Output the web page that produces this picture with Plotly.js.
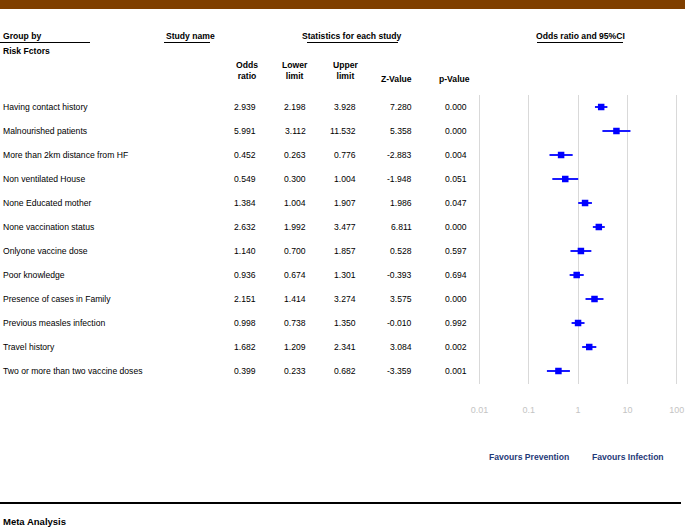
<!DOCTYPE html>
<html><head><meta charset="utf-8">
<script src="https://cdn.plot.ly/plotly-3.0.1.min.js"></script>
<style>html,body{margin:0;padding:0;background:#fff}#chart{width:685px;height:529px}</style>
</head><body><div id="chart"></div>
<script>
const studies = ["Having contact history","Malnourished patients","More than 2km distance from HF","Non ventilated House","None Educated mother","None vaccination status","Onlyone vaccine dose","Poor knowledge","Presence of cases in Family","Previous measles infection","Travel history","Two or more than two vaccine doses"];
const oddsRatio = [2.939,5.991,0.452,0.549,1.384,2.632,1.140,0.936,2.151,0.998,1.682,0.399];
const lowerLimit = [2.198,3.112,0.263,0.300,1.004,1.992,0.700,0.674,1.414,0.738,1.209,0.233];
const upperLimit = [3.928,11.532,0.776,1.004,1.907,3.477,1.857,1.301,3.274,1.350,2.341,0.682];
const zValue = [7.280,5.358,-2.883,-1.948,1.986,6.811,0.528,-0.393,3.575,-0.010,3.084,-3.359];
const pValue = [0.000,0.000,0.004,0.051,0.047,0.000,0.597,0.694,0.000,0.992,0.002,0.001];
const tickVals = [0.01,0.1,1,10,100];
const tickText = ["0.01","0.1","1","10","100"];

const W = 685, H = 529;
const FONT = "'Liberation Sans Narrow','Arial Narrow','Liberation Sans',Arial,sans-serif";
const px = x => x / W;
const py = y => 1 - y / H;
const rows = studies.map((_, i) => i);

const trace = {
  type: 'scatter', mode: 'markers',
  x: oddsRatio, y: rows,
  marker: {symbol: 'square', size: 6.5, color: '#0000ff'},
  error_x: {type: 'data', symmetric: false,
    array: upperLimit.map((u, i) => u - oddsRatio[i]),
    arrayminus: lowerLimit.map((l, i) => oddsRatio[i] - l),
    color: '#1a1aff', thickness: 2, width: 0},
  hoverinfo: 'skip', showlegend: false
};

const ann = [];
const base = {family: FONT, size: 8.6, color: '#000'};
function txt(text, x, y, opts) {
  ann.push(Object.assign({text, x: px(x), y: py(y), xref: 'paper', yref: 'paper',
    showarrow: false, xanchor: 'left', yanchor: 'middle', font: base}, opts || {}));
}
const hb = {font: {family: FONT, size: 8.6, color: '#000', weight: 'bold'}};
txt('Group by', 1, 36, hb);
txt('Study name', 164, 36, hb);
txt('Statistics for each study', 352, 36, Object.assign({xanchor: 'center'}, hb));
txt('Odds ratio and 95%CI', 580, 36, Object.assign({xanchor: 'center'}, hb));
txt('Risk Fctors', 1, 51, {font: {family: FONT, size: 8.6, color: '#000', weight: 'bold'}});
const colHdr = [["Odds<br>ratio", 247], ["Lower<br>limit", 295], ["Upper<br>limit", 345]];
colHdr.forEach(([t, x]) => txt(t, x, 71, {xanchor: 'center', font: {family: FONT, size: 8.6, color: '#000', weight: 'bold'}}));
txt('Z-Value', 396, 79, Object.assign({xanchor: 'center'}, hb));
txt('p-Value', 454, 79, Object.assign({xanchor: 'center'}, hb));
const cols = [[oddsRatio, 258], [lowerLimit, 308], [upperLimit, 358], [zValue, 414], [pValue, 469]];
studies.forEach((s, i) => {
  ann.push({text: s, x: px(1), y: i, xref: 'paper', yref: 'y', showarrow: false,
    xanchor: 'left', yanchor: 'middle', font: base});
  cols.forEach(([arr, x]) => {
    ann.push({text: arr[i].toFixed(3), x: px(x), y: i, xref: 'paper', yref: 'y', showarrow: false,
      xanchor: 'right', yanchor: 'middle', font: base});
  });
});
const fav = {font: {family: FONT, size: 8.6, color: '#1f3a78', weight: 'bold'}};
txt('Favours Prevention', 529, 457, Object.assign({xanchor: 'center'}, fav));
txt('Favours Infection', 628, 457, Object.assign({xanchor: 'center'}, fav));
txt('Meta Analysis', 1, 521, {font: {family: FONT, size: 9.5, color: '#000', weight: 'bold'}});

const shapes = [
  {type: 'rect', xref: 'paper', yref: 'paper', x0: 0, x1: 1, y0: py(9), y1: 1, fillcolor: '#7f3f00', line: {width: 0}},
  {type: 'line', xref: 'paper', yref: 'paper', x0: px(0), x1: px(90), y0: py(42.5), y1: py(42.5), line: {color: '#000', width: 1}},
  {type: 'line', xref: 'paper', yref: 'paper', x0: px(164), x1: px(210), y0: py(42.5), y1: py(42.5), line: {color: '#000', width: 1}},
  {type: 'line', xref: 'paper', yref: 'paper', x0: px(307), x1: px(398), y0: py(42.5), y1: py(42.5), line: {color: '#000', width: 1}},
  {type: 'line', xref: 'paper', yref: 'paper', x0: px(537), x1: px(623), y0: py(42.5), y1: py(42.5), line: {color: '#000', width: 1}},
  {type: 'line', xref: 'paper', yref: 'paper', x0: 0, x1: px(681), y0: py(503), y1: py(503), line: {color: '#000', width: 2}}
];

const layout = {
  width: W, height: H, margin: {l: 0, r: 0, t: 0, b: 0},
  paper_bgcolor: '#fff', plot_bgcolor: '#fff',
  xaxis: {type: 'log', range: [-2.05, 2.05], domain: [px(477.03), px(679.17)],
    tickvals: tickVals, ticktext: tickText, showgrid: true, gridcolor: '#d9d9d9', gridwidth: 1,
    zeroline: false, showline: false, ticks: '', ticklabelstandoff: 19,
    tickfont: {family: FONT, size: 9, color: '#c4c4c4'}, fixedrange: true},
  yaxis: {range: [11.54, -0.5], domain: [py(384), py(95)], showgrid: false, zeroline: false,
    showticklabels: false, ticks: '', showline: false, fixedrange: true},
  annotations: ann, shapes: shapes, showlegend: false
};
Plotly.newPlot('chart', [trace], layout, {staticPlot: true, displayModeBar: false});
</script></body></html>
